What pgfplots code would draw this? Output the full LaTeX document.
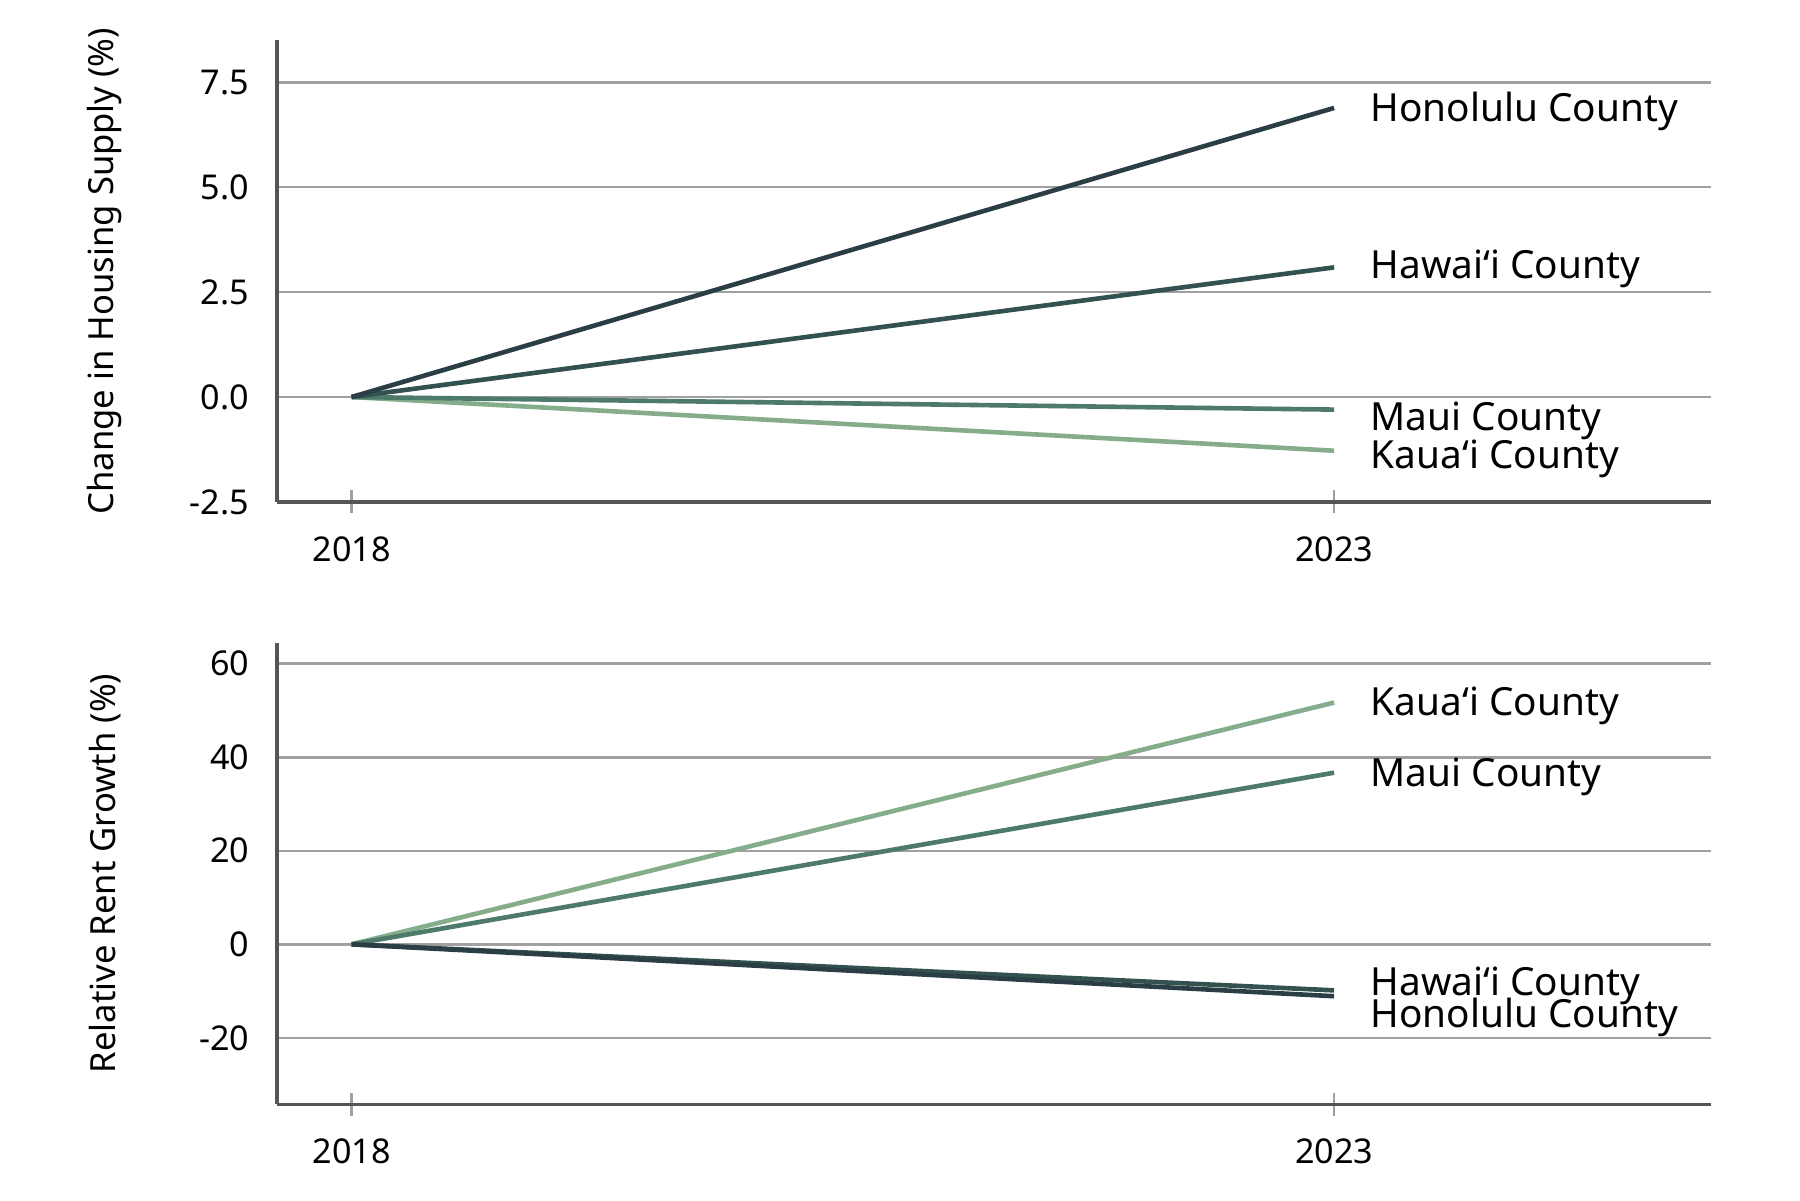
\documentclass[border=0pt]{standalone}
\usepackage{pgfplots}
\pgfplotsset{compat=1.18}
\usepackage{fontspec}
\setmainfont{Noto Sans}
\definecolor{honolulu}{HTML}{2B3E45}
\definecolor{hawaii}{HTML}{33514F}
\definecolor{maui}{HTML}{4E7A6C}
\definecolor{kauai}{HTML}{85AD8C}
\definecolor{gridc}{HTML}{A0A0A0}
\definecolor{axc}{HTML}{555555}
\tikzset{lab/.style={anchor=west, inner sep=0pt, font=\fontsize{8.4pt}{9pt}\selectfont, xshift=7.75pt}}
\pgfplotsset{
  base/.style={
    scale only axis, width=310.8pt, height=100pt,
    axis x line*=bottom, axis y line*=left,
    axis line style={axc, line width=0.7pt},
    xmin=2017.62, xmax=2024.92,
    xtick={2018,2023}, xticklabels={2018,2023},
    x tick style={gridc, line width=0.5pt},
    major tick length=5pt, tick align=center,
    y tick style={draw=none},
    ymajorgrids, grid style={gridc, line width=0.55pt},
    tick label style={font=\fontsize{7.4pt}{8pt}\selectfont, text=black},
    xticklabel style={yshift=-1.5pt},
    label style={font=\fontsize{7.5pt}{9pt}\selectfont},
    ylabel style={at={(axis description cs:-0.12,0.5)}, anchor=center},
    every axis plot/.append style={line width=1pt, no markers},
    clip=false,
  },
}
\begin{document}
\begin{tikzpicture}
\path[use as bounding box] (0,0) rectangle (390pt,260pt);
\begin{axis}[base, at={(60pt,151.25pt)}, anchor=south west,
  ymin=-2.5, ymax=8.5,
  ytick={-2.5,0,2.5,5,7.5}, yticklabels={-2.5,0.0,2.5,5.0,7.5},
  ylabel={Change in Housing Supply (\%)}]
\addplot[kauai] coordinates {(2018,0) (2023,-1.28)};
\addplot[maui] coordinates {(2018,0) (2023,-0.30)};
\addplot[hawaii] coordinates {(2018,0) (2023,3.09)};
\addplot[honolulu] coordinates {(2018,0) (2023,6.89)};
\node[lab] at (axis cs:2023,6.80) {Honolulu County};
\node[lab] at (axis cs:2023,3.06) {Hawaiʻi County};
\node[lab] at (axis cs:2023,-0.57) {Maui County};
\node[lab] at (axis cs:2023,-1.48) {Kauaʻi County};
\end{axis}
\begin{axis}[base, at={(60pt,20.75pt)}, anchor=south west,
  ymin=-34.2, ymax=64.5,
  ytick={-20,0,20,40,60}, yticklabels={-20,0,20,40,60},
  ylabel={Relative Rent Growth (\%)}]
\addplot[kauai] coordinates {(2018,0) (2023,51.7)};
\addplot[maui] coordinates {(2018,0) (2023,36.7)};
\addplot[hawaii] coordinates {(2018,0) (2023,-9.85)};
\addplot[honolulu] coordinates {(2018,0) (2023,-11.1)};
\node[lab] at (axis cs:2023,51.0) {Kauaʻi County};
\node[lab] at (axis cs:2023,35.8) {Maui County};
\node[lab] at (axis cs:2023,-8.8) {Hawaiʻi County};
\node[lab] at (axis cs:2023,-15.7) {Honolulu County};
\end{axis}
\end{tikzpicture}
\end{document}
